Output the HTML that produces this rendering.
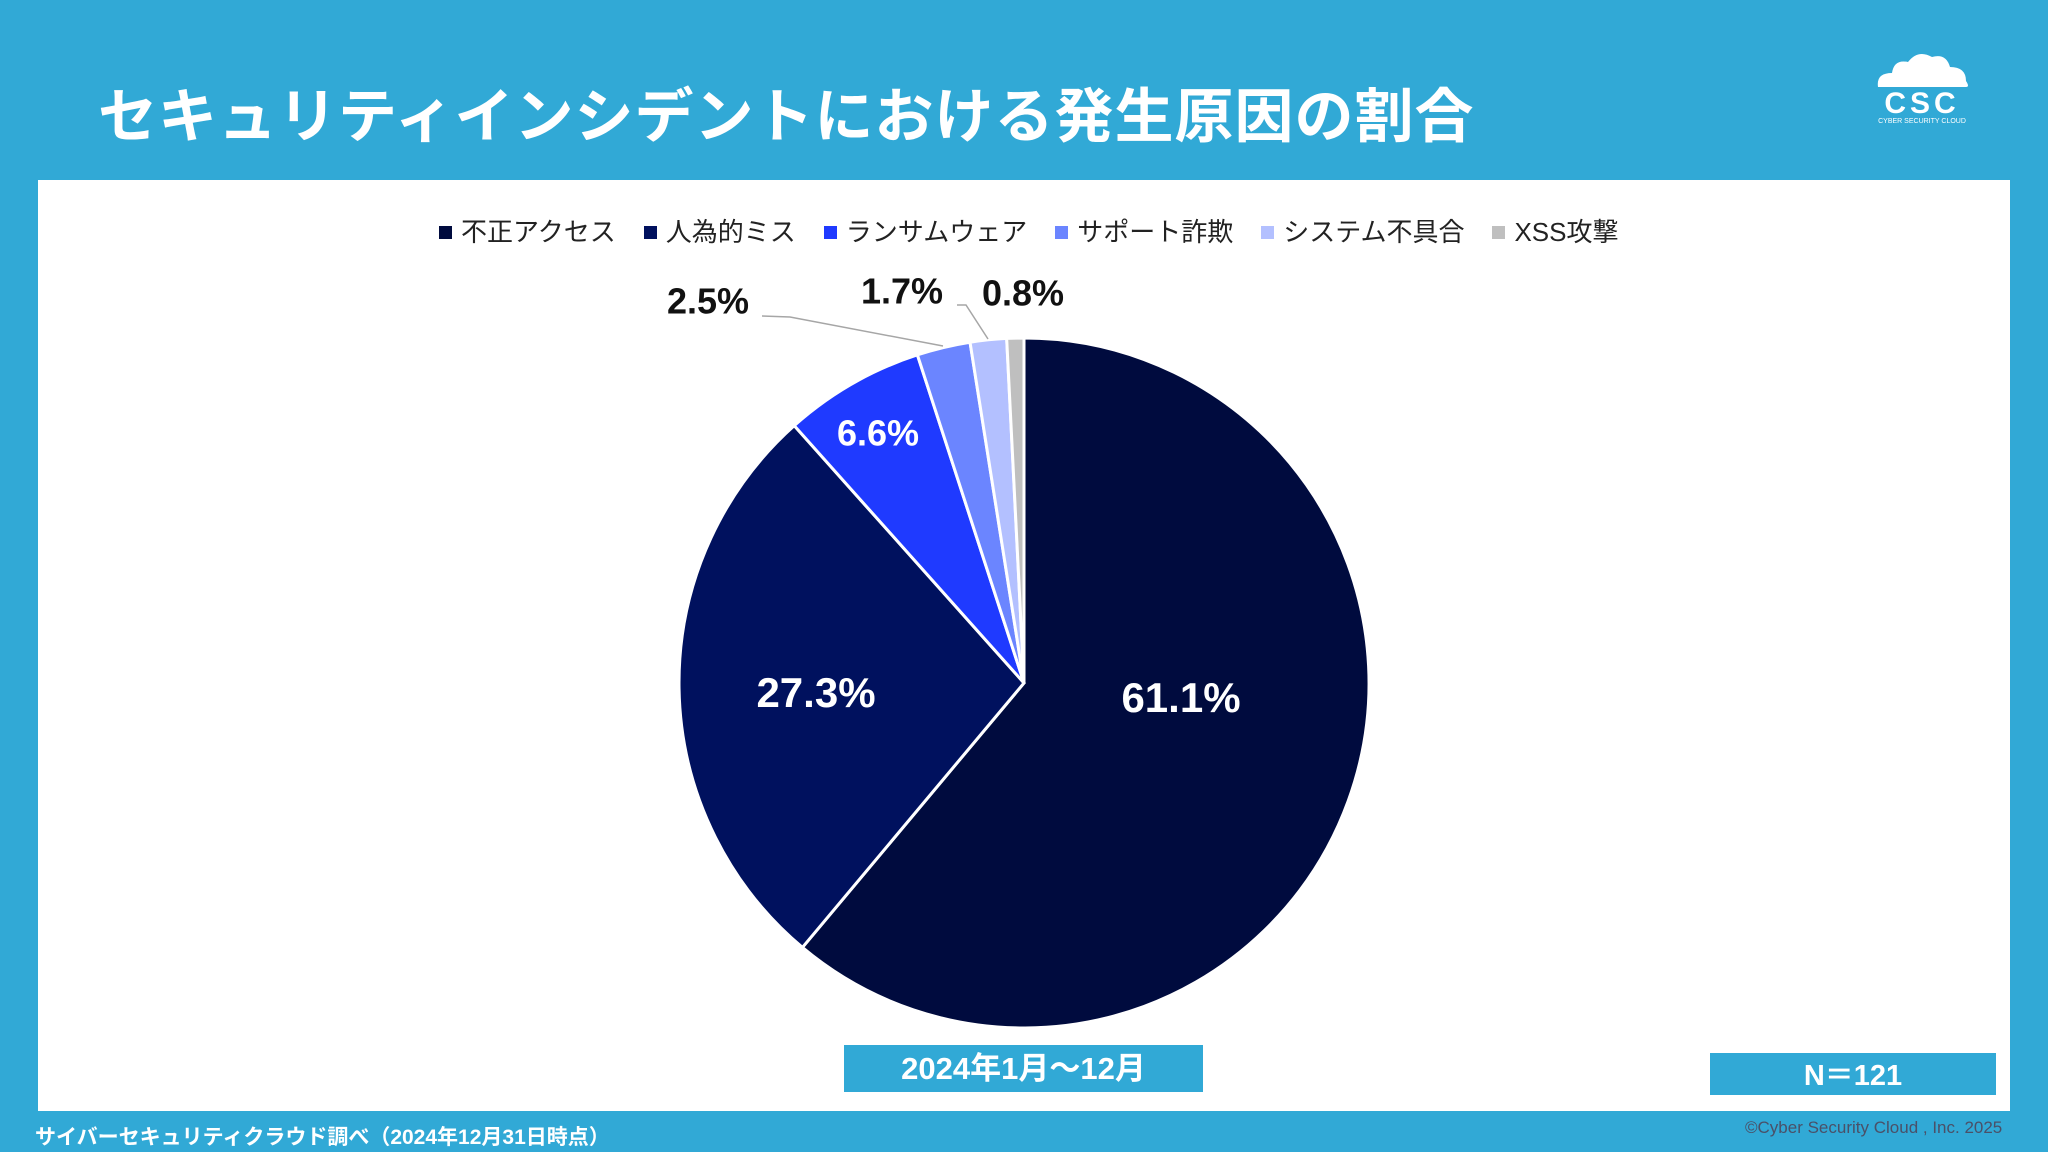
<!DOCTYPE html>
<html><head><meta charset="utf-8">
<style>
html,body{margin:0;padding:0;}
body{width:2048px;height:1152px;background:#31a9d6;position:relative;overflow:hidden;font-family:"Liberation Sans","Noto Sans CJK JP",sans-serif;}
.abs{position:absolute;}
#title{left:98px;top:69px;font-size:59px;font-weight:bold;color:#fff;letter-spacing:1px;white-space:nowrap;}
#panel{left:38px;top:180px;width:1972px;height:931px;background:#fff;}
#legend{left:439px;top:212px;font-size:26px;color:#222;white-space:nowrap;display:flex;gap:0;}
.li{display:flex;align-items:center;margin-right:28px;}
.sw{width:13px;height:13px;margin-right:9px;margin-top:4px;}
.box{background:#31a9d6;color:#fff;font-weight:bold;text-align:center;}
#footer-left{left:35px;top:1121px;font-size:21px;font-weight:bold;color:#fff;white-space:nowrap;}
#footer-right{left:1745px;top:1118px;font-size:17px;color:#4a5068;white-space:nowrap;}
</style></head><body>
<div id="title" class="abs">セキュリティインシデントにおける発生原因の割合</div>
<svg class="abs" style="left:1870px;top:45px" width="120" height="85">
<path d="M8 42 Q6 28 22 28 Q24 14 38 17 Q48 4 62 12 Q76 8 80 22 Q96 22 96 36 Q100 42 96 42 Z" fill="#fff"/>
<text x="52" y="68" text-anchor="middle" font-family="Liberation Sans" font-weight="bold" font-size="30" fill="#fff" letter-spacing="4">CSC</text>
<text x="52" y="78" text-anchor="middle" font-family="Liberation Sans" font-size="7" fill="#fff">CYBER SECURITY CLOUD</text>
</svg>
<div id="panel" class="abs"></div>
<div id="legend" class="abs"></div>
<svg id="pie" class="abs" style="left:0;top:0" width="2048" height="1152"></svg>
<div class="abs box" style="left:844px;top:1045px;width:359px;height:47px;line-height:47px;font-size:31px;">2024年1月～12月</div>
<div class="abs box" style="left:1710px;top:1053px;width:286px;height:42px;line-height:46px;font-size:29px;">N＝121</div>
<div id="footer-left" class="abs">サイバーセキュリティクラウド調べ（2024年12月31日時点）</div>
<div id="footer-right" class="abs">©Cyber Security Cloud , Inc. 2025</div>
<script>
const categories=["不正アクセス","人為的ミス","ランサムウェア","サポート詐欺","システム不具合","XSS攻撃"];
const values=[61.1,27.3,6.6,2.5,1.7,0.8];
const labels=["61.1%","27.3%","6.6%","2.5%","1.7%","0.8%"];
const colors=["#000b3e","#00115e","#1f3aff","#6b85ff","#b3c0ff","#bfbfbf"];
const NS="http://www.w3.org/2000/svg";
const leg=document.getElementById('legend');
categories.forEach((c,i)=>{
  const d=document.createElement('div');d.className='li';
  
  
  d.innerHTML='<span class="sw" style="background:'+colors[i]+'"></span>'+c;
  leg.appendChild(d);
});
const svg=document.getElementById('pie');
const cx=1024,cy=683,r=345;
const total=values.reduce((a,b)=>a+b,0);
let acc=0;
const pt=(f,rr)=>{const a=f*2*Math.PI-Math.PI/2;return [cx+rr*Math.cos(a),cy+rr*Math.sin(a)];};
const inside=[[1181,701,42],[816,696,42],[878,436,36]];
const outside=[[708,304],[902,294],[1023,296]];
values.forEach((v,i)=>{
  const f0=acc/total,f1=(acc+v)/total;acc+=v;
  const p0=pt(f0,r),p1=pt(f1,r);
  const large=(f1-f0)>0.5?1:0;
  const p=document.createElementNS(NS,'path');
  p.setAttribute('d',`M${cx},${cy} L${p0[0]},${p0[1]} A${r},${r} 0 ${large} 1 ${p1[0]},${p1[1]} Z`);
  p.setAttribute('fill',colors[i]);p.setAttribute('stroke','#fff');p.setAttribute('stroke-width','3');
  
  
  svg.appendChild(p);
  const t=document.createElementNS(NS,'text');
  t.setAttribute('font-family','"Liberation Sans","Noto Sans CJK JP",sans-serif');
  t.setAttribute('font-weight','bold');t.setAttribute('text-anchor','middle');t.setAttribute('dominant-baseline','middle');
  if(i<3){const q=inside[i];t.setAttribute('x',q[0]);t.setAttribute('y',q[1]);t.setAttribute('font-size',q[2]);t.setAttribute('fill','#fff');}
  else{const q=outside[i-3];t.setAttribute('x',q[0]);t.setAttribute('y',q[1]);t.setAttribute('font-size','36');t.setAttribute('fill','#111');}
  t.textContent=labels[i];
  
  
  svg.appendChild(t);
});
[["762,316 790,317 943,346"],["957,305 966,305 988,339"]].forEach((s,k)=>{
  const l=document.createElementNS(NS,'polyline');
  l.setAttribute('points',s[0]);l.setAttribute('fill','none');l.setAttribute('stroke','#a6a6a6');l.setAttribute('stroke-width','1.5');
  
  
  svg.appendChild(l);
});
</script>
</body></html>
